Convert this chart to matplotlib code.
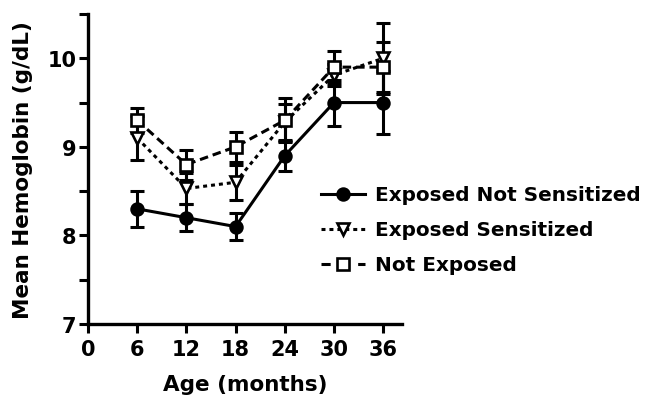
import matplotlib
matplotlib.use("Agg")
import matplotlib.pyplot as plt
from matplotlib.lines import Line2D

ages = [6, 12, 18, 24, 30, 36]
ens = [8.3, 8.2, 8.1, 8.9, 9.5, 9.5]
ens_err = [0.2, 0.15, 0.15, 0.17, 0.26, 0.36]
es = [9.1, 8.53, 8.6, 9.28, 9.81, 10.0]
es_err = [0.25, 0.18, 0.2, 0.2, 0.12, 0.4]
ne = [9.3, 8.8, 9.0, 9.3, 9.9, 9.9]
ne_err = [0.14, 0.17, 0.17, 0.25, 0.18, 0.28]
labels = ["Exposed Not Sensitized", "Exposed Sensitized", "Not Exposed"]
xticks = [0, 6, 12, 18, 24, 30, 36]

plt.rcParams['font.family'] = ['DejaVu Sans']
plt.rcParams['font.weight'] = 'bold'

fig = plt.figure(figsize=(6.48, 4.10), dpi=100)
ax = fig.add_axes([88/648, 1 - 325/410, (402-88)/648, (325-15)/410])

lw = 2.2
styles = [
    dict(ls='-', marker='o', mfc='black', dashes=None, hdashes=None, ms=8.5),
    dict(ls=':', marker='v', mfc='white', dashes=(1.3, 1.3), hdashes=(1.3, 1.3), ms=9),
    dict(ls='--', marker='s', mfc='white', dashes=(2.8, 1.6), hdashes=(3.0, 3.0), ms=8.5),
]
series = [(ens, ens_err), (es, es_err), (ne, ne_err)]
handles = []
for (y, e), st, lab in zip(series, styles, labels):
    ax.errorbar(ages, y, yerr=e, fmt='none', ecolor='black', elinewidth=lw,
                capsize=5, capthick=lw, zorder=2)
    kw = dict(color='black', lw=lw, marker=st['marker'], ms=st['ms'],
              mfc=st['mfc'], mec='black', mew=1.9, zorder=3)
    line, = ax.plot(ages, y, ls=st['ls'], **kw)
    if st['dashes'] is not None:
        line.set_dashes(st['dashes'])
    h = Line2D([], [], ls=st['ls'], **kw)
    if st['hdashes'] is not None:
        h.set_dashes(st['hdashes'])
    handles.append(h)

ax.set_xlim(0, 38.3)
ax.set_ylim(7, 10.5)
ax.set_xticks(xticks)
ax.set_xticklabels([str(t) for t in xticks])
yt = [7, 7.5, 8, 8.5, 9, 9.5, 10, 10.5]
ax.set_yticks(yt)
ax.set_yticklabels([str(int(t)) if t == int(t) and t <= 10 else '' for t in yt])

for s in ['top', 'right']:
    ax.spines[s].set_visible(False)
for s in ['left', 'bottom']:
    ax.spines[s].set_linewidth(2.4)
ax.tick_params(axis='both', length=6.5, width=2.2, labelsize=15, pad=2)
ax.tick_params(axis='x', pad=4)

ax.set_xlabel("Age (months)", fontsize=15.5, fontweight='bold', labelpad=11)
ax.set_ylabel("Mean Hemoglobin (g/dL)", fontsize=15.5, fontweight='bold', labelpad=10)

fig.legend(handles, labels, loc='center left', bbox_to_anchor=(321/648, 1 - 231/410),
           frameon=False, fontsize=14.4, handlelength=2.2, handletextpad=0.5,
           labelspacing=0.8, borderpad=0, borderaxespad=0)

fig.savefig("out.png", dpi=100)
